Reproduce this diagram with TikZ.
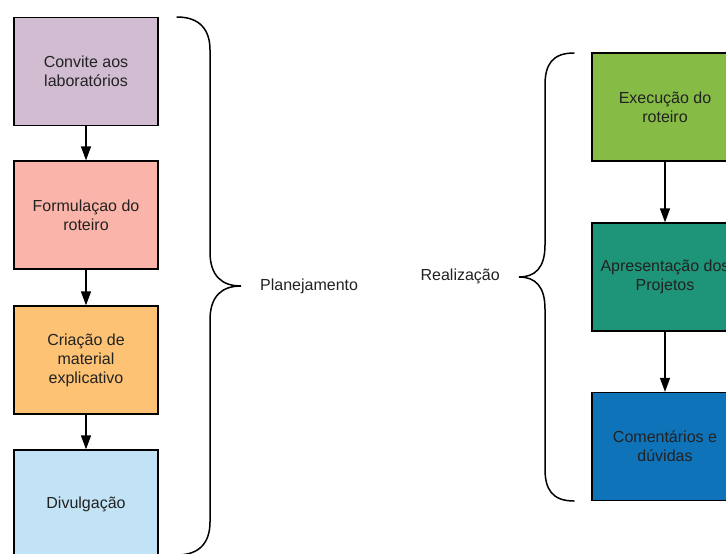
\documentclass[tikz,border=0pt]{standalone}
\usepackage{fontspec}
\setmainfont{Liberation Sans}
\usetikzlibrary{arrows.meta}
\definecolor{cA}{HTML}{D1BCD2}
\definecolor{cB}{HTML}{FBB4A9}
\definecolor{cC}{HTML}{FDC274}
\definecolor{cD}{HTML}{C2E3F6}
\definecolor{cE}{HTML}{86BC45}
\definecolor{cF}{HTML}{1E9478}
\definecolor{cG}{HTML}{0F73BA}
\definecolor{txt}{HTML}{222222}
\tikzset{
  box/.style={draw=black, line width=1.3pt, minimum width=144pt, minimum height=108pt,
    inner sep=0pt, align=center, text=txt, font={\fontsize{16}{19}\selectfont}},
  rbox/.style={box, minimum width=146pt},
  flow/.style={line width=1.4pt, -{Triangle[width=10pt,length=14pt]}},
  brace/.style={line width=1.5pt, line cap=round},
  lbl/.style={font={\fontsize{16}{19}\selectfont}, text=txt, inner sep=0pt}
}
\begin{document}
\begin{tikzpicture}[x=1pt,y=-1pt]
\useasboundingbox (0,0) rectangle (726,554);
\clip (0,0) rectangle (726,554);
\fill[white] (0,0) rectangle (726,554);
% left column
\node[box, fill=cA] (a) at (86,71.5) {Convite aos\\laboratórios};
\node[box, fill=cB] (b) at (86,215) {Formulaçao do\\roteiro};
\node[box, fill=cC] (c) at (86,360) {Criação de\\material\\explicativo};
\node[box, fill=cD] (d) at (86,504) {Divulgação};
\draw[flow] (a) -- (b);
\draw[flow] (b) -- (c);
\draw[flow] (c) -- (d);
% right column
\node[rbox, fill=cE] (e) at (665,107) {Execução do\\roteiro};
\node[rbox, fill=cF] (f) at (665,277) {Apresentação dos\\Projetos};
\node[rbox, fill=cG] (g) at (665,446.5) {Comentários e\\dúvidas};
\draw[flow] (e) -- (f);
\draw[flow] (f) -- (g);
% left brace
\coordinate (lt) at (177,17);
\coordinate (lm) at (241,286);
\coordinate (lb) at (177,555);
\draw[brace] (lt) .. controls (200,17) and (210,30) .. (210,50)
  -- (210,252) .. controls (210,276) and (222,286) .. (lm)
  .. controls (222,286) and (210,296) .. (210,320)
  -- (210,522) .. controls (210,542) and (200,555) .. (lb);
\node[lbl, anchor=west] (pl) at (260,286) {Planejamento};
% right brace
\coordinate (rt) at (574,53);
\coordinate (rm) at (519,277);
\coordinate (rb) at (574,501);
\draw[brace] (rt) .. controls (552,53) and (545,65) .. (545,85)
  -- (545,245) .. controls (545,268) and (535,277) .. (rm)
  .. controls (535,277) and (545,286) .. (545,309)
  -- (545,469) .. controls (545,489) and (552,501) .. (rb);
\node[lbl, anchor=east] (re) at (500,276) {Realização};
\end{tikzpicture}
\end{document}
